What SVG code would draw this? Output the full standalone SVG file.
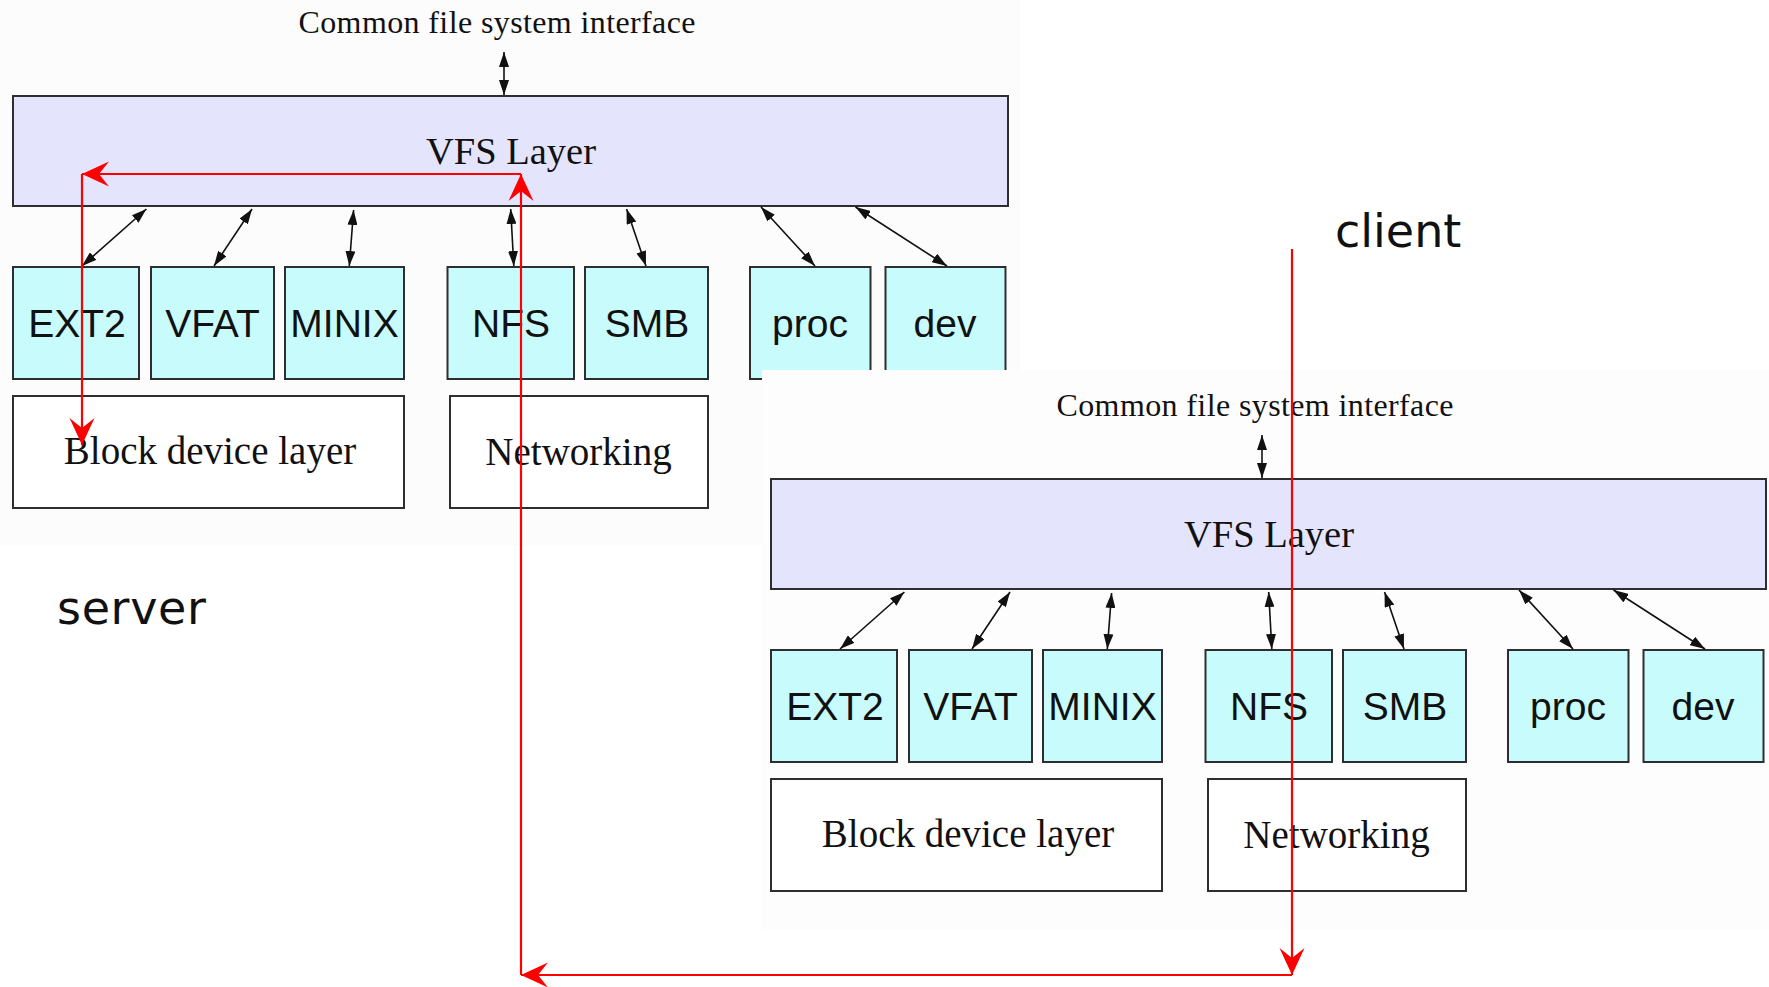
<svg xmlns="http://www.w3.org/2000/svg" width="1769" height="987" viewBox="0 0 1769 987">
<style>
.vfs{fill:#e4e4fc;stroke:#2e2e2e;stroke-width:2}
.fs{fill:#c8fcfc;stroke:#2e2e2e;stroke-width:2}
.low{fill:#ffffff;stroke:#2e2e2e;stroke-width:2}
.serif{font-family:"Liberation Serif","Times New Roman",serif;fill:#111;text-anchor:middle}
.sans{font-family:"Liberation Sans",Arial,sans-serif;font-size:39px;fill:#111;text-anchor:middle}
.lbl{font-family:"DejaVu Sans",Verdana,sans-serif;font-size:46px;fill:#111}
.blk{stroke:#111;stroke-width:1.6;fill:none;marker-start:url(#bh);marker-end:url(#bh)}
.red{stroke:#ff0000;stroke-width:2.2;fill:none;marker-end:url(#rh)}
</style>
<defs>
<marker id="bh" markerUnits="userSpaceOnUse" viewBox="0 0 15 10" markerWidth="15" markerHeight="10" refX="15" refY="5" orient="auto-start-reverse">
<path d="M0,0 L15,5 L0,10 z" fill="#111"/>
</marker>
<marker id="rh" markerUnits="userSpaceOnUse" viewBox="-27 -13 28 26" markerWidth="28" markerHeight="26" refX="0" refY="0" orient="auto">
<path d="M0,0 L-27,-12.5 L-17,0 L-27,12.5 z" fill="#ff0000"/>
</marker>
</defs>
<rect width="1769" height="987" fill="#ffffff"/>
<rect x="0" y="0" width="1020" height="545" fill="#fcfcfc"/>

<g id="server">
<g id="s-cfi"><text class="serif" x="497" y="33" font-size="32" textLength="397">Common file system interface</text></g>
<g id="s-vfs"><rect class="vfs" x="13" y="96" width="995" height="110"/><text class="serif" x="511" y="164" font-size="38.5">VFS Layer</text></g>
<g id="s-ext2"><rect class="fs" x="13" y="267" width="126" height="112"/><text class="sans" x="77" y="337">EXT2</text></g>
<g id="s-vfat"><rect class="fs" x="151" y="267" width="123" height="112"/><text class="sans" x="212.5" y="337">VFAT</text></g>
<g id="s-minix"><rect class="fs" x="285" y="267" width="119" height="112"/><text class="sans" x="344.5" y="337">MINIX</text></g>
<g id="s-nfs"><rect class="fs" x="447.5" y="267" width="126.5" height="112"/><text class="sans" x="511" y="337">NFS</text></g>
<g id="s-smb"><rect class="fs" x="585" y="267" width="123" height="112"/><text class="sans" x="647" y="337">SMB</text></g>
<g id="s-proc"><rect class="fs" x="750" y="267" width="120.5" height="112"/><text class="sans" x="810" y="337">proc</text></g>
<g id="s-dev"><rect class="fs" x="885.5" y="267" width="120" height="112"/><text class="sans" x="945" y="337">dev</text></g>
<g id="s-block"><rect class="low" x="13" y="396" width="391" height="112"/><text class="serif" x="210" y="464" font-size="39">Block device layer</text></g>
<g id="s-net"><rect class="low" x="450" y="396" width="258" height="112"/><text class="serif" x="578.5" y="465" font-size="39">Networking</text></g>
<g id="s-label"><text class="lbl" x="57" y="624" textLength="149">server</text></g>
</g>

<rect x="762" y="370" width="1007" height="560" fill="#fdfdfd"/>

<g id="client">
<g id="c-cfi"><text class="serif" x="1255" y="416" font-size="32" textLength="397">Common file system interface</text></g>
<g id="c-vfs"><rect class="vfs" x="771" y="479" width="995" height="110"/><text class="serif" x="1269" y="547" font-size="38.5">VFS Layer</text></g>
<g id="c-ext2"><rect class="fs" x="771" y="650" width="126" height="112"/><text class="sans" x="835" y="720">EXT2</text></g>
<g id="c-vfat"><rect class="fs" x="909" y="650" width="123" height="112"/><text class="sans" x="970.5" y="720">VFAT</text></g>
<g id="c-minix"><rect class="fs" x="1043" y="650" width="119" height="112"/><text class="sans" x="1102.5" y="720">MINIX</text></g>
<g id="c-nfs"><rect class="fs" x="1205.5" y="650" width="126.5" height="112"/><text class="sans" x="1269" y="720">NFS</text></g>
<g id="c-smb"><rect class="fs" x="1343" y="650" width="123" height="112"/><text class="sans" x="1405" y="720">SMB</text></g>
<g id="c-proc"><rect class="fs" x="1508" y="650" width="120.5" height="112"/><text class="sans" x="1568" y="720">proc</text></g>
<g id="c-dev"><rect class="fs" x="1643.5" y="650" width="120" height="112"/><text class="sans" x="1703" y="720">dev</text></g>
<g id="c-block"><rect class="low" x="771" y="779" width="391" height="112"/><text class="serif" x="968" y="847" font-size="39">Block device layer</text></g>
<g id="c-net"><rect class="low" x="1208" y="779" width="258" height="112"/><text class="serif" x="1336.5" y="848" font-size="39">Networking</text></g>
<g id="c-label"><text class="lbl" x="1335" y="247">client</text></g>
</g>

<g id="connectors">
<line class="blk" x1="504" y1="52" x2="504" y2="95"/>
<line class="blk" x1="146.4" y1="209" x2="82" y2="266"/>
<line class="blk" x1="252" y1="209" x2="214" y2="266"/>
<line class="blk" x1="353.6" y1="210" x2="349.3" y2="266"/>
<line class="blk" x1="510.7" y1="209" x2="513.8" y2="266"/>
<line class="blk" x1="626.6" y1="209" x2="646" y2="266"/>
<line class="blk" x1="761" y1="207" x2="815" y2="266"/>
<line class="blk" x1="855.5" y1="207" x2="947" y2="266"/>

<line class="blk" x1="1262" y1="435" x2="1262" y2="478"/>
<line class="blk" x1="904.4" y1="592" x2="840" y2="649"/>
<line class="blk" x1="1010" y1="592" x2="972" y2="649"/>
<line class="blk" x1="1111.6" y1="593" x2="1107.3" y2="649"/>
<line class="blk" x1="1268.7" y1="592" x2="1271.8" y2="649"/>
<line class="blk" x1="1384.6" y1="592" x2="1404" y2="649"/>
<line class="blk" x1="1519" y1="590" x2="1573" y2="649"/>
<line class="blk" x1="1613.5" y1="590" x2="1705" y2="649"/>

<line class="red" x1="1292" y1="249" x2="1292" y2="975"/>
<line class="red" x1="1292" y1="975" x2="521" y2="975"/>
<line class="red" x1="521" y1="975" x2="521" y2="174"/>
<line class="red" x1="521" y1="174" x2="82" y2="174"/>
<line class="red" x1="82" y1="174" x2="82" y2="445"/>
</g>
</svg>
